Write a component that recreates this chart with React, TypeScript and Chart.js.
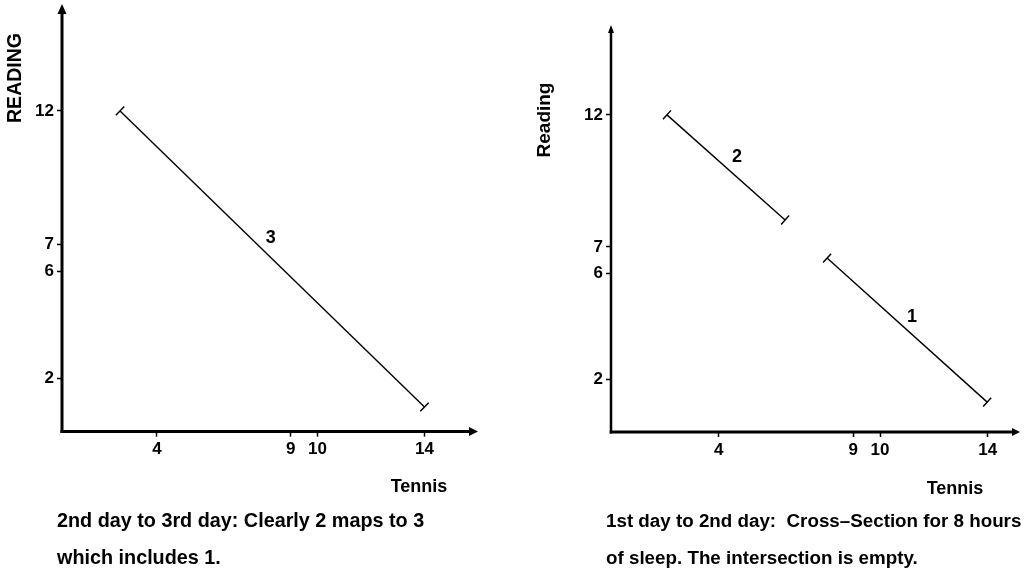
import React, { useEffect, useRef } from "react";
import { Chart, registerables } from "chart.js";

Chart.register(...registerables);

const FONT = '"Liberation Sans", Arial, Helvetica, sans-serif';

// ---------------- data ----------------
const X_TICKS = [4, 9, 10, 14];
const Y_TICKS = [2, 6, 7, 12];
const X_TITLE = "Tennis";
const LEFT_Y_TITLE = "READING";
const RIGHT_Y_TITLE = "Reading";

const LEFT_SEGMENT_NAMES = ["3"];
const LEFT_SEGMENT_3 = [
  { x: 2.62, y: 12 },
  { x: 14, y: 0.92 },
];

const RIGHT_SEGMENT_NAMES = ["2", "1"];
const RIGHT_SEGMENT_2 = [
  { x: 2.08, y: 12 },
  { x: 6.47, y: 8.02 },
];
const RIGHT_SEGMENT_1 = [
  { x: 8.03, y: 6.58 },
  { x: 13.98, y: 1.13 },
];

const LEFT_CAPTION = ["2nd day to 3rd day: Clearly 2 maps to 3", "which includes 1."];
const RIGHT_CAPTION = [
  "1st day to 2nd day:  Cross\u2013Section for 8 hours",
  "of sleep. The intersection is empty.",
];

// ---------------- panel layout / style ----------------
type Pt = { x: number; y: number };
type PanelCfg = {
  pageLeft: number;
  width: number;
  height: number;
  area: { left: number; right: number; top: number; bottom: number };
  xRange: [number, number];
  yRange: [number, number];
  yAxisW: number;
  xAxisW: number;
  yArrow: { len: number; hw: number };
  xArrow: { len: number; hw: number };
  yTitle: { text: string; x: number; y: number; size: number };
  xTitle: { text: string; x: number; y: number; size: number };
  segments: Pt[][];
  names: string[];
  namePos: { t: number; dy: number }[];
  caption: { lines: string[]; x: number; size: number };
};

const LEFT_PANEL: PanelCfg = {
  pageLeft: 0,
  width: 516,
  height: 574,
  area: { left: 62, right: 478, top: 4, bottom: 431.6 },
  xRange: [0.45, 16],
  yRange: [0, 16],
  yAxisW: 3,
  xAxisW: 3,
  yArrow: { len: 10, hw: 4.5 },
  xArrow: { len: 9, hw: 4.5 },
  yTitle: { text: LEFT_Y_TITLE, x: 15.5, y: 78, size: 19.5 },
  xTitle: { text: X_TITLE, x: 419, y: 487, size: 18 },
  segments: [LEFT_SEGMENT_3],
  names: LEFT_SEGMENT_NAMES,
  namePos: [{ t: 0.495, dy: -19 }],
  caption: { lines: LEFT_CAPTION, x: 57, size: 19.8 },
};

const RIGHT_PANEL: PanelCfg = {
  pageLeft: 516,
  width: 517,
  height: 574,
  area: { left: 95, right: 504, top: 25, bottom: 432 },
  xRange: [0, 15.2],
  yRange: [0, 15.4],
  yAxisW: 2.5,
  xAxisW: 3,
  yArrow: { len: 8, hw: 3 },
  xArrow: { len: 8, hw: 4 },
  yTitle: { text: RIGHT_Y_TITLE, x: 29, y: 120, size: 19 },
  xTitle: { text: X_TITLE, x: 439, y: 489, size: 18 },
  segments: [RIGHT_SEGMENT_2, RIGHT_SEGMENT_1],
  names: RIGHT_SEGMENT_NAMES,
  namePos: [
    { t: 0.593, dy: -20 },
    { t: 0.531, dy: -17.5 },
  ],
  caption: { lines: RIGHT_CAPTION, x: 606, size: 18.8 },
};

function makeDecor(cfg: PanelCfg) {
  return {
    id: "panelDecor",
    afterDraw(chart: any) {
      const { ctx, chartArea: a } = chart;
      ctx.save();
      ctx.strokeStyle = "#000";
      ctx.fillStyle = "#000";

      // segment end caps and names
      chart.data.datasets.forEach((_ds: any, i: number) => {
        const meta = chart.getDatasetMeta(i);
        const p0 = meta.data[0];
        const p1 = meta.data[meta.data.length - 1];
        const dx = p1.x - p0.x;
        const dy = p1.y - p0.y;
        const len = Math.hypot(dx, dy) || 1;
        const nx = -dy / len;
        const ny = dx / len;
        const cap = 6;
        ctx.lineWidth = 1.5;
        [p0, p1].forEach((p: any) => {
          ctx.beginPath();
          ctx.moveTo(p.x - nx * cap, p.y - ny * cap);
          ctx.lineTo(p.x + nx * cap, p.y + ny * cap);
          ctx.stroke();
        });
        const pos = cfg.namePos[i];
        const name = cfg.names[i];
        if (pos && name) {
          ctx.font = `bold 18px ${FONT}`;
          ctx.textAlign = "center";
          ctx.textBaseline = "middle";
          ctx.fillText(name, p0.x + dx * pos.t, p0.y + dy * pos.t + pos.dy);
        }
      });

      // y axis with arrow
      ctx.lineWidth = cfg.yAxisW;
      ctx.beginPath();
      ctx.moveTo(a.left, a.bottom + cfg.xAxisW / 2);
      ctx.lineTo(a.left, a.top + cfg.yArrow.len - 1);
      ctx.stroke();
      ctx.beginPath();
      ctx.moveTo(a.left, a.top);
      ctx.lineTo(a.left - cfg.yArrow.hw, a.top + cfg.yArrow.len);
      ctx.lineTo(a.left + cfg.yArrow.hw, a.top + cfg.yArrow.len);
      ctx.closePath();
      ctx.fill();

      // x axis with arrow
      ctx.lineWidth = cfg.xAxisW;
      ctx.beginPath();
      ctx.moveTo(a.left - cfg.yAxisW / 2, a.bottom);
      ctx.lineTo(a.right - cfg.xArrow.len + 1, a.bottom);
      ctx.stroke();
      ctx.beginPath();
      ctx.moveTo(a.right, a.bottom);
      ctx.lineTo(a.right - cfg.xArrow.len, a.bottom - cfg.xArrow.hw);
      ctx.lineTo(a.right - cfg.xArrow.len, a.bottom + cfg.xArrow.hw);
      ctx.closePath();
      ctx.fill();

      // axis titles
      ctx.textAlign = "center";
      ctx.textBaseline = "middle";
      ctx.font = `bold ${cfg.xTitle.size}px ${FONT}`;
      ctx.fillText(cfg.xTitle.text, cfg.xTitle.x, cfg.xTitle.y);
      ctx.save();
      ctx.translate(cfg.yTitle.x, cfg.yTitle.y);
      ctx.rotate(-Math.PI / 2);
      ctx.font = `bold ${cfg.yTitle.size}px ${FONT}`;
      ctx.fillText(cfg.yTitle.text, 0, 0);
      ctx.restore();

      ctx.restore();
    },
  };
}

function Panel({ cfg }: { cfg: PanelCfg }) {
  const ref = useRef<HTMLCanvasElement | null>(null);

  useEffect(() => {
    if (!ref.current) return;
    const xScaleH = 40;
    const zeroPad = (s: any) => {
      s.paddingTop = 0;
      s.paddingBottom = 0;
      s.paddingLeft = 0;
      s.paddingRight = 0;
    };
    const tickFont = { family: FONT, size: 17, weight: "bold" as const };
    const chart = new Chart(ref.current, {
      type: "scatter",
      data: {
        datasets: cfg.segments.map((seg, i) => ({
          label: cfg.names[i],
          data: seg,
          showLine: true,
          borderColor: "#000",
          backgroundColor: "#000",
          borderWidth: 1.4,
          pointRadius: 0,
          pointHoverRadius: 0,
          fill: false,
        })),
      },
      options: {
        responsive: false,
        animation: false,
        events: [],
        layout: {
          padding: {
            left: 0,
            right: cfg.width - cfg.area.right,
            top: cfg.area.top,
            bottom: cfg.height - cfg.area.bottom - xScaleH,
          },
        },
        plugins: {
          legend: { display: false },
          tooltip: { enabled: false },
        },
        scales: {
          x: {
            type: "linear",
            min: cfg.xRange[0],
            max: cfg.xRange[1],
            afterBuildTicks: (s: any) => {
              s.ticks = X_TICKS.map((v) => ({ value: v }));
            },
            afterFit: (s: any) => {
              s.height = xScaleH;
              zeroPad(s);
            },
            border: { display: false },
            grid: {
              display: true,
              drawOnChartArea: false,
              drawTicks: true,
              tickLength: 5,
              tickWidth: 1.5,
              tickColor: "#000",
              color: "#000",
            },
            ticks: {
              autoSkip: false,
              maxRotation: 0,
              padding: 3,
              color: "#000",
              font: tickFont,
              callback: (v: any) => String(v),
            },
          },
          y: {
            type: "linear",
            min: cfg.yRange[0],
            max: cfg.yRange[1],
            afterBuildTicks: (s: any) => {
              s.ticks = Y_TICKS.map((v) => ({ value: v }));
            },
            afterFit: (s: any) => {
              s.width = cfg.area.left;
              zeroPad(s);
            },
            border: { display: false },
            grid: {
              display: true,
              drawOnChartArea: false,
              drawTicks: true,
              tickLength: 5,
              tickWidth: 1.5,
              tickColor: "#000",
              color: "#000",
            },
            ticks: {
              autoSkip: false,
              padding: 3,
              color: "#000",
              font: tickFont,
              callback: (v: any) => String(v),
            },
          },
        },
      },
      plugins: [makeDecor(cfg)],
    });
    return () => chart.destroy();
  }, [cfg]);

  return (
    <canvas
      ref={ref}
      width={cfg.width}
      height={cfg.height}
      style={{
        position: "absolute",
        left: cfg.pageLeft,
        top: 0,
        width: cfg.width,
        height: cfg.height,
      }}
    />
  );
}

function Caption({ cfg }: { cfg: PanelCfg }) {
  return (
    <div
      style={{
        position: "absolute",
        left: cfg.caption.x,
        top: 502,
        fontFamily: FONT,
        fontWeight: "bold",
        fontSize: cfg.caption.size,
        lineHeight: "37px",
        whiteSpace: "pre",
        color: "#000",
      }}
    >
      {cfg.caption.lines.map((l, i) => (
        <div key={i}>{l}</div>
      ))}
    </div>
  );
}

export default function App() {
  return (
    <div
      style={{
        position: "absolute",
        left: 0,
        top: 0,
        width: 1033,
        height: 574,
        background: "#fff",
        overflow: "hidden",
      }}
    >
      <Panel cfg={LEFT_PANEL} />
      <Panel cfg={RIGHT_PANEL} />
      <Caption cfg={LEFT_PANEL} />
      <Caption cfg={RIGHT_PANEL} />
    </div>
  );
}
